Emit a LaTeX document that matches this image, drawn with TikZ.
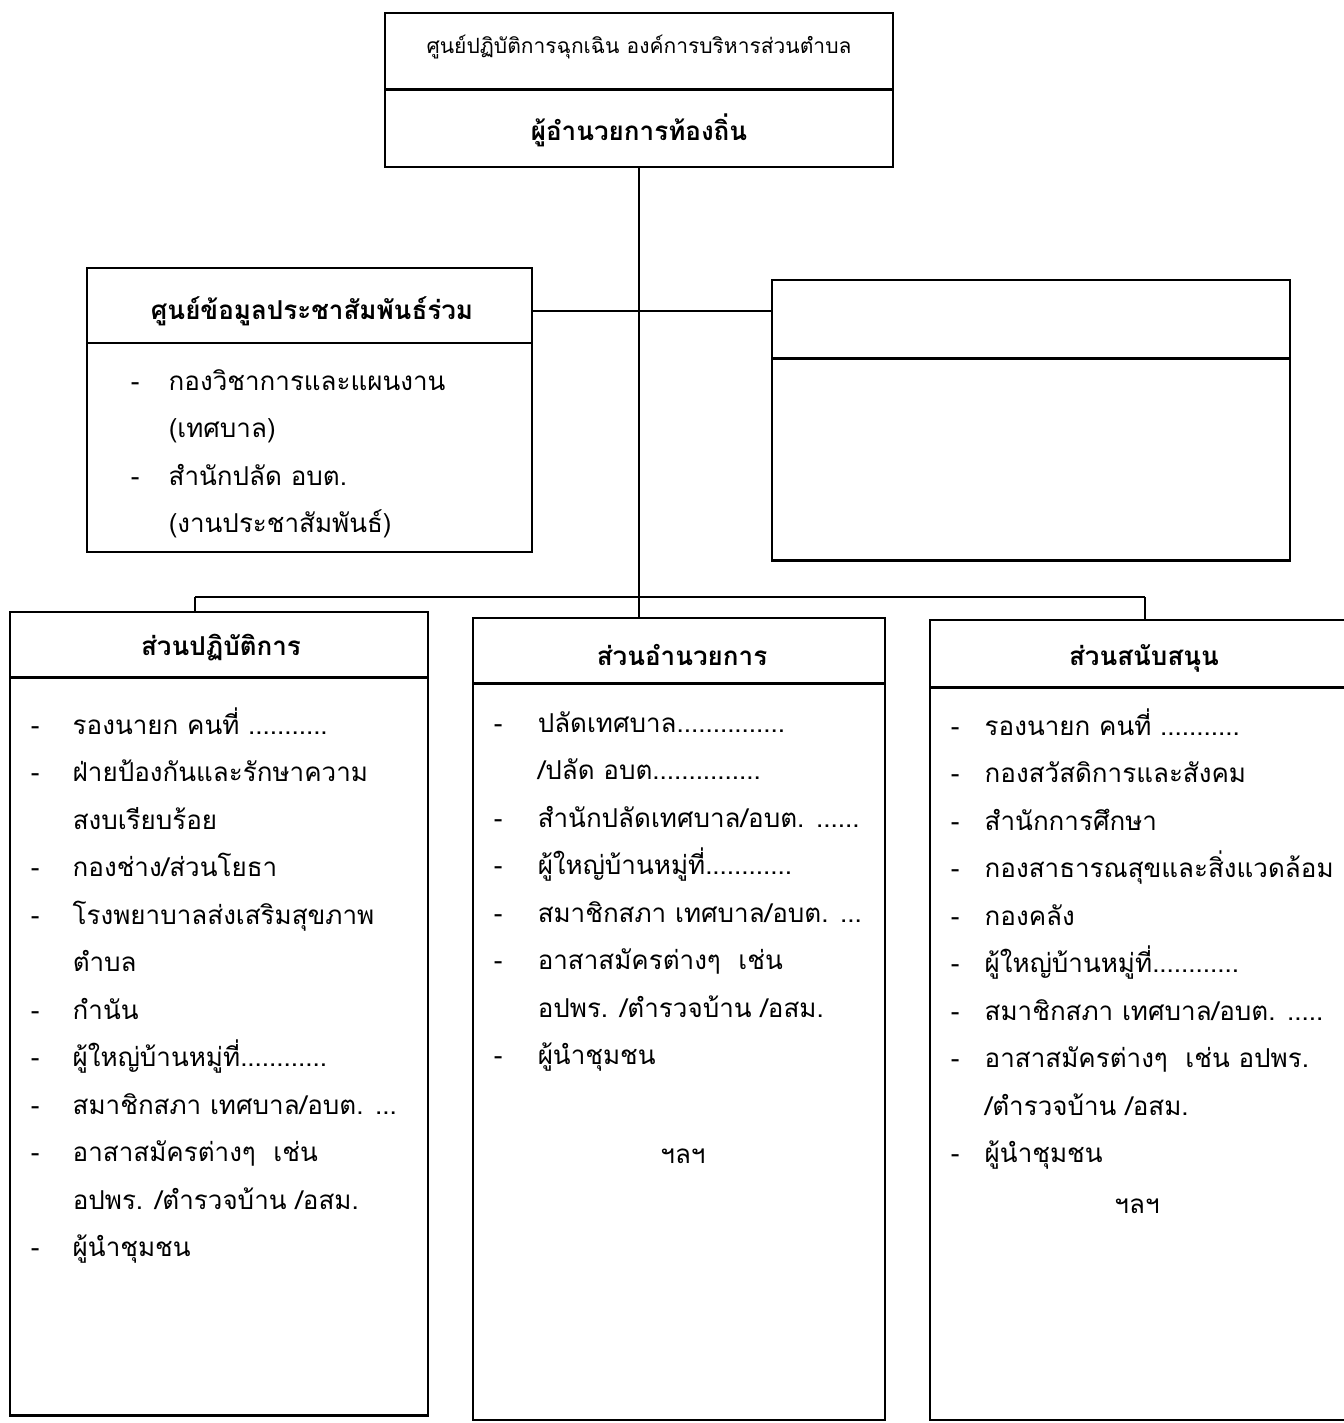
\documentclass[tikz,border=0pt]{standalone}
\usepackage{fontspec}
\setmainfont[Script=Thai]{Loma}
\usetikzlibrary{positioning}
\newcommand{\listfont}{\fontsize{26}{47.5}\selectfont}
\newcommand{\titlefont}{\bfseries\fontsize{26}{30}\selectfont}

\begin{document}
\begin{tikzpicture}[x=1pt, y=-1pt, line width=1.5pt,
    box/.style={shape=rectangle, draw, inner sep=0pt},
    hatch/.style={line width=3pt, dash pattern=on 1.5pt off 0.5pt},
    title/.style={font=\titlefont, inner sep=0pt},
    list/.style={anchor=base west, inner sep=0pt, font=\listfont}]
    \fill[white] (0,0) rectangle (1343,1423);
    \useasboundingbox (0,0) rectangle (1343,1423);

    % top box
    \node[box, minimum width=508pt, minimum height=154pt] (head) at (639,90) {};
    \draw[hatch] (head.west |- 0,90) -- (head.east |- 0,90);
    \node[font=\fontsize{21}{24}\selectfont] (headline) at (639,47) {ศูนย์ปฏิบัติการฉุกเฉิน องค์การบริหารส่วนตำบล};
    \node[title] (headname) at (639,130) {ผู้อำนวยการท้องถิ่น};

    % side boxes
    \node[box, minimum width=445pt, minimum height=284pt] (info) at (309.5,410) {};
    \draw (info.west |- 0,343) -- (info.east |- 0,343);
    \node[title] (infotitle) at (312,311) {ศูนย์ข้อมูลประชาสัมพันธ์ร่วม};
    \node[list] (infolist) at (130,390) {\begin{tabular}[t]{@{}p{38pt}@{}l@{}}
        - & กองวิชาการและแผนงาน\\
          & (เทศบาล)\\
        - & สำนักปลัด อบต.\\
          & (งานประชาสัมพันธ์)
        \end{tabular}};

    \node[box, minimum width=518pt, minimum height=280pt] (blank) at (1031,420) {};
    \draw[hatch] (blank.west |- 0,358) -- (blank.east |- 0,358);
    \draw[hatch] (blank.south west) -- (blank.south east);

    % lower boxes
    \node[box, minimum width=418pt, minimum height=803pt] (ops) at (219,1013.5) {};
    \draw[hatch] (ops.west |- 0,677) -- (ops.east |- 0,677);
    \draw[hatch] (ops.south west) -- (ops.south east);
    \node[title] (opstitle) at (221,648) {ส่วนปฏิบัติการ};
    \node[list] (opslist) at (30,734) {\begin{tabular}[t]{@{}p{42pt}@{}l@{}}
        - & รองนายก คนที่ ...........\\
        - & ฝ่ายป้องกันและรักษาความ\\
          & สงบเรียบร้อย\\
        - & กองช่าง/ส่วนโยธา\\
        - & โรงพยาบาลส่งเสริมสุขภาพ\\
          & ตำบล\\
        - & กำนัน\\
        - & ผู้ใหญ่บ้านหมู่ที่............\\
        - & สมาชิกสภา เทศบาล/อบต. ...\\
        - & อาสาสมัครต่างๆ~ เช่น\\
          & อปพร. /ตำรวจบ้าน /อสม.\\
        - & ผู้นำชุมชน
        \end{tabular}};

    \node[box, minimum width=412pt, minimum height=802pt] (admin) at (679,1019) {};
    \draw[hatch] (admin.west |- 0,683) -- (admin.east |- 0,683);
    \node[title] (admintitle) at (682,655) {ส่วนอำนวยการ};
    \node[list] (adminlist) at (493,732) {\begin{tabular}[t]{@{}p{44pt}@{}l@{}}
        - & ปลัดเทศบาล...............\\
          & /ปลัด อบต...............\\
        - & สำนักปลัดเทศบาล/อบต. ......\\
        - & ผู้ใหญ่บ้านหมู่ที่............\\
        - & สมาชิกสภา เทศบาล/อบต. ...\\
        - & อาสาสมัครต่างๆ~ เช่น\\
          & อปพร. /ตำรวจบ้าน /อสม.\\
        - & ผู้นำชุมชน
        \end{tabular}};
    \node[font=\listfont, anchor=base, inner sep=0pt] (adminetc) at (683,1163) {ฯลฯ};

    \node[box, minimum width=428pt, minimum height=800pt] (support) at (1144,1020) {};
    \draw[hatch] (support.west |- 0,687) -- (support.east |- 0,687);
    \node[title] (supporttitle) at (1144,658) {ส่วนสนับสนุน};
    \node[list] (supportlist) at (950,735) {\begin{tabular}[t]{@{}p{34pt}@{}l@{}}
        - & รองนายก คนที่ ...........\\
        - & กองสวัสดิการและสังคม\\
        - & สำนักการศึกษา\\
        - & กองสาธารณสุขและสิ่งแวดล้อม\\
        - & กองคลัง\\
        - & ผู้ใหญ่บ้านหมู่ที่............\\
        - & สมาชิกสภา เทศบาล/อบต. .....\\
        - & อาสาสมัครต่างๆ~ เช่น อปพร.\\
          & /ตำรวจบ้าน /อสม.\\
        - & ผู้นำชุมชน
        \end{tabular}};
    \node[font=\listfont, anchor=base, inner sep=0pt] (supportetc) at (1137,1213) {ฯลฯ};

    % connectors
    \coordinate (barL) at (195,597);
    \coordinate (barR) at (1145,597);
    \draw (head.south) -- (head.south |- admin.north);
    \draw (info.east |- infotitle) -- (blank.west |- infotitle);
    \draw (barL) -- (barR);
    \draw (barL) -- (barL |- ops.north);
    \draw (barR) -- (barR |- support.north);
\end{tikzpicture}
\end{document}
